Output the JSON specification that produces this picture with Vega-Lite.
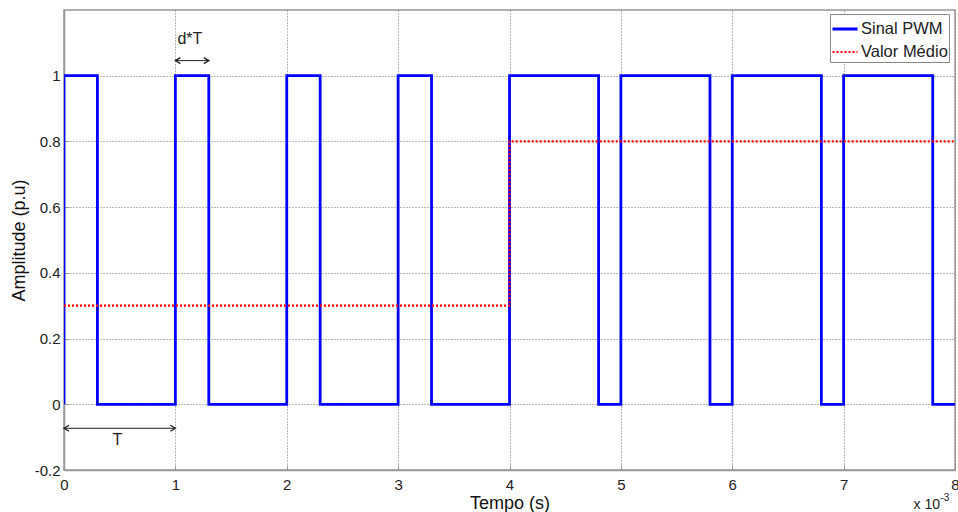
{
  "$schema": "https://vega.github.io/schema/vega-lite/v6.json",
  "width": 891,
  "height": 460,
  "autosize": {"type": "none"},
  "padding": {"left": 64, "top": 10, "right": 3, "bottom": 42},
  "background": "white",
  "config": {
    "font": "Liberation Sans",
    "view": {"stroke": "#999", "strokeWidth": 1.5},
    "axis": {
      "domainColor": "#999",
      "domainWidth": 1.5,
      "tickColor": "#999",
      "labelColor": "#222",
      "titleColor": "#111",
      "labelFont": "Liberation Sans",
      "titleFont": "Liberation Sans",
      "labelFontSize": 15,
      "titleFontSize": 18,
      "titleFontWeight": "normal",
      "gridColor": "#777",
      "gridDash": [1, 2],
      "gridWidth": 1,
      "labelFlush": false
    }
  },
  "layer": [
    {
      "data": {"values": [
        {"i": 0, "t": 0, "v": 0, "s": "Sinal PWM"},
        {"i": 1, "t": 0, "v": 1, "s": "Sinal PWM"},
        {"i": 2, "t": 0.3, "v": 1, "s": "Sinal PWM"},
        {"i": 3, "t": 0.3, "v": 0, "s": "Sinal PWM"},
        {"i": 4, "t": 1, "v": 0, "s": "Sinal PWM"},
        {"i": 5, "t": 1, "v": 1, "s": "Sinal PWM"},
        {"i": 6, "t": 1.3, "v": 1, "s": "Sinal PWM"},
        {"i": 7, "t": 1.3, "v": 0, "s": "Sinal PWM"},
        {"i": 8, "t": 2, "v": 0, "s": "Sinal PWM"},
        {"i": 9, "t": 2, "v": 1, "s": "Sinal PWM"},
        {"i": 10, "t": 2.3, "v": 1, "s": "Sinal PWM"},
        {"i": 11, "t": 2.3, "v": 0, "s": "Sinal PWM"},
        {"i": 12, "t": 3, "v": 0, "s": "Sinal PWM"},
        {"i": 13, "t": 3, "v": 1, "s": "Sinal PWM"},
        {"i": 14, "t": 3.3, "v": 1, "s": "Sinal PWM"},
        {"i": 15, "t": 3.3, "v": 0, "s": "Sinal PWM"},
        {"i": 16, "t": 4, "v": 0, "s": "Sinal PWM"},
        {"i": 17, "t": 4, "v": 1, "s": "Sinal PWM"},
        {"i": 18, "t": 4.8, "v": 1, "s": "Sinal PWM"},
        {"i": 19, "t": 4.8, "v": 0, "s": "Sinal PWM"},
        {"i": 20, "t": 5, "v": 0, "s": "Sinal PWM"},
        {"i": 21, "t": 5, "v": 1, "s": "Sinal PWM"},
        {"i": 22, "t": 5.8, "v": 1, "s": "Sinal PWM"},
        {"i": 23, "t": 5.8, "v": 0, "s": "Sinal PWM"},
        {"i": 24, "t": 6, "v": 0, "s": "Sinal PWM"},
        {"i": 25, "t": 6, "v": 1, "s": "Sinal PWM"},
        {"i": 26, "t": 6.8, "v": 1, "s": "Sinal PWM"},
        {"i": 27, "t": 6.8, "v": 0, "s": "Sinal PWM"},
        {"i": 28, "t": 7, "v": 0, "s": "Sinal PWM"},
        {"i": 29, "t": 7, "v": 1, "s": "Sinal PWM"},
        {"i": 30, "t": 7.8, "v": 1, "s": "Sinal PWM"},
        {"i": 31, "t": 7.8, "v": 0, "s": "Sinal PWM"},
        {"i": 32, "t": 8, "v": 0, "s": "Sinal PWM"},
        {"i": 0, "t": 0, "v": 0.3, "s": "Valor Médio"},
        {"i": 1, "t": 4, "v": 0.3, "s": "Valor Médio"},
        {"i": 2, "t": 4, "v": 0.8, "s": "Valor Médio"},
        {"i": 3, "t": 8, "v": 0.8, "s": "Valor Médio"}
      ]},
      "mark": {"type": "line", "clip": true},
      "encoding": {
        "x": {
          "field": "t", "type": "quantitative",
          "scale": {"domain": [0, 8], "nice": false, "zero": false},
          "axis": {
            "title": "Tempo (s)",
            "values": [0, 1, 2, 3, 4, 5, 6, 7, 8],
            "labelExpr": "'' + datum.value",
            "labelOverlap": false,
            "grid": true,
            "tickSize": -5,
            "labelPadding": 12,
            "titlePadding": 2
          }
        },
        "y": {
          "field": "v", "type": "quantitative",
          "scale": {"domain": [-0.2, 1.2], "nice": false, "zero": false},
          "axis": {
            "title": "Amplitude (p.u)",
            "values": [-0.2, 0, 0.2, 0.4, 0.6, 0.8, 1],
            "labelExpr": "'' + datum.value",
            "labelOverlap": false,
            "grid": true,
            "tickSize": -5,
            "labelPadding": 9,
            "titlePadding": 6
          }
        },
        "order": {"field": "i", "type": "quantitative"},
        "color": {
          "field": "s", "type": "nominal",
          "scale": {"domain": ["Sinal PWM", "Valor Médio"], "range": ["#0000ff", "#ff0000"]},
          "legend": {
            "title": null,
            "orient": "none",
            "legendX": 766,
            "legendY": 4,
            "fillColor": "white",
            "strokeColor": "#888",
            "padding": 1,
            "symbolType": "stroke",
            "symbolSize": 625,
            "symbolStrokeWidth": 2.5,
            "labelFontSize": 16.5,
            "labelColor": "#222",
            "labelFont": "Liberation Sans",
            "rowPadding": -5,
            "labelOffset": 2
          }
        },
        "strokeDash": {
          "field": "s", "type": "nominal",
          "scale": {"domain": ["Sinal PWM", "Valor Médio"], "range": [[1, 0], [2, 2]]},
          "legend": null
        },
        "strokeWidth": {
          "field": "s", "type": "nominal",
          "scale": {"domain": ["Sinal PWM", "Valor Médio"], "range": [2.8, 2.2]},
          "legend": null
        }
      }
    },
    {
      "data": {"values": [
        {"x": 0, "x2": 1, "y": -0.073},
        {"x": 1, "x2": 1.3, "y": 1.046}
      ]},
      "layer": [
        {
          "mark": {"type": "rule", "color": "#222", "strokeWidth": 1},
          "encoding": {
            "x": {"field": "x", "type": "quantitative"},
            "x2": {"field": "x2"},
            "y": {"field": "y", "type": "quantitative"}
          }
        },
        {
          "mark": {"type": "point", "shape": "M 1 -0.6 L 0 0 L 1 0.6", "filled": false, "color": "#222", "strokeWidth": 1.4, "size": 100, "opacity": 1},
          "encoding": {
            "x": {"field": "x", "type": "quantitative"},
            "y": {"field": "y", "type": "quantitative"}
          }
        },
        {
          "mark": {"type": "point", "shape": "M -1 -0.6 L 0 0 L -1 0.6", "filled": false, "color": "#222", "strokeWidth": 1.4, "size": 100, "opacity": 1},
          "encoding": {
            "x": {"field": "x2", "type": "quantitative"},
            "y": {"field": "y", "type": "quantitative"}
          }
        }
      ]
    },
    {
      "data": {"values": [
        {"x": 0.48, "y": -0.11, "label": "T"},
        {"x": 1.13, "y": 1.113, "label": "d*T"}
      ]},
      "mark": {"type": "text", "fontSize": 16, "color": "#222", "font": "Liberation Sans"},
      "encoding": {
        "x": {"field": "x", "type": "quantitative"},
        "y": {"field": "y", "type": "quantitative"},
        "text": {"field": "label"}
      }
    },
    {
      "data": {"values": [{"x": 7.865, "y": -0.308, "label": "x 10"}]},
      "mark": {"type": "text", "fontSize": 14, "color": "#222", "align": "right", "font": "Liberation Sans"},
      "encoding": {
        "x": {"field": "x", "type": "quantitative"},
        "y": {"field": "y", "type": "quantitative"},
        "text": {"field": "label"}
      }
    },
    {
      "data": {"values": [{"x": 7.87, "y": -0.284, "label": "-3"}]},
      "mark": {"type": "text", "fontSize": 10, "color": "#222", "align": "left", "font": "Liberation Sans"},
      "encoding": {
        "x": {"field": "x", "type": "quantitative"},
        "y": {"field": "y", "type": "quantitative"},
        "text": {"field": "label"}
      }
    }
  ]
}
